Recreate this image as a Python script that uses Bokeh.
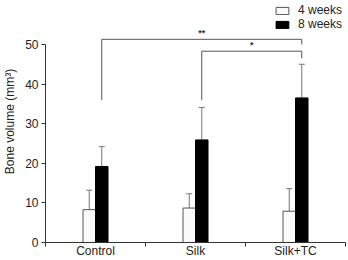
from bokeh.plotting import figure
from bokeh.models import (ColumnDataSource, Range1d, FixedTicker, Whisker, TeeHead,
                          Legend, LegendItem)
from bokeh.embed import file_html
from bokeh.resources import INLINE

# ---- data ----
categories = ["Control", "Silk", "Silk+TC"]
series_names = ["4 weeks", "8 weeks"]
weeks4 = [8.3, 8.7, 7.9]
weeks4_err = [4.9, 3.6, 5.7]
weeks8 = [19.2, 25.9, 36.5]
weeks8_err = [5.0, 8.2, 8.5]
y_ticks = [0, 10, 20, 30, 40, 50]
y_title = "Bone volume (mm³)"
# significance comparisons: (group a, group b, label)
comparisons = [("Control", "Silk+TC", "**"), ("Silk", "Silk+TC", "*")]

# ---- layout / style ----
FONT = "Liberation Sans"
BAR_W = 0.125
OFF4, OFF8 = -0.0625, 0.0625
centers = [i + 0.5 for i in range(len(categories))]
pos = {c: i + 0.5 for i, c in enumerate(categories)}

p = figure(width=348, height=260, output_backend="svg", toolbar_location=None,
           x_range=Range1d(0, len(categories)), y_range=Range1d(0, 61.1),
           min_border_left=44, min_border_right=3, min_border_top=0,
           min_border_bottom=18)
p.outline_line_color = None
p.grid.visible = False
p.background_fill_color = "white"

x4 = [c + OFF4 for c in centers]
x8 = [c + OFF8 for c in centers]
src = ColumnDataSource(dict(x4=x4, x8=x8, v4=weeks4, v8=weeks8,
                            u4=[v + e for v, e in zip(weeks4, weeks4_err)],
                            u8=[v + e for v, e in zip(weeks8, weeks8_err)]))

r4 = p.vbar(x="x4", top="v4", bottom=0, width=BAR_W, source=src,
            fill_color="#fafafa", line_color="#555555", line_width=1)
r8 = p.vbar(x="x8", top="v8", bottom=0, width=BAR_W, source=src,
            fill_color="black", line_color="black", line_width=1)

for base, lo, up in (("x4", "v4", "u4"), ("x8", "v8", "u8")):
    w = Whisker(base=base, lower=lo, upper=up, source=src, dimension="height",
                line_color="#777777", line_width=1,
                upper_head=TeeHead(size=6, line_color="#777777", line_width=1),
                lower_head=None)
    p.add_layout(w)

# significance brackets
heights = [51.3, 48.3]
right_ends = [50.0, 46.5]
left_end = 35.9
for (a, b, lab), h, rend in zip(comparisons, heights, right_ends):
    xa, xb = pos[a] + OFF8, pos[b] + OFF8
    p.line([xa, xa, xb, xb], [left_end, h, h, rend], line_color="#555555", line_width=1)
    p.text(x=[(xa + xb) / 2], y=[h + 0.3], text=[lab], text_align="center",
           text_baseline="bottom", text_font_size="9px", text_color="#333333",
           text_font_style="bold", text_font={"value": FONT})

# axes
xa_ = p.xaxis[0]
xa_.ticker = FixedTicker(ticks=centers, minor_ticks=list(range(len(categories) + 1)))
xa_.major_label_overrides = {c: n for c, n in zip(centers, categories)}
xa_.major_tick_line_color = None
xa_.major_tick_out = 0
xa_.major_tick_in = 0
xa_.minor_tick_out = 4
xa_.minor_tick_in = 0
xa_.minor_tick_line_color = "#333333"
xa_.major_label_standoff = -3
xa_.major_label_text_font = FONT
xa_.major_label_text_font_size = "12px"
xa_.major_label_text_color = "#222222"
xa_.axis_line_color = "#333333"

ya = p.yaxis[0]
ya.ticker = FixedTicker(ticks=y_ticks)
ya.bounds = (y_ticks[0], y_ticks[-1])
ya.major_tick_out = 4
ya.major_tick_in = 0
ya.minor_tick_line_color = None
ya.major_label_standoff = 3
ya.major_label_text_font = FONT
ya.major_label_text_font_size = "12px"
ya.major_label_text_color = "#222222"
ya.axis_line_color = "#333333"
ya.major_tick_line_color = "#333333"
ya.axis_label = y_title
ya.axis_label_text_font = FONT
ya.axis_label_text_font_size = "12px"
ya.axis_label_text_font_style = "normal"
ya.axis_label_text_color = "#222222"
ya.axis_label_standoff = 5

legend = Legend(items=[LegendItem(label=series_names[0], renderers=[r4]),
                       LegendItem(label=series_names[1], renderers=[r8])],
                location="top_right", glyph_width=16, glyph_height=9,
                label_height=12, label_standoff=8, spacing=0, padding=0, margin=3,
                border_line_color=None, background_fill_alpha=0,
                label_text_font=FONT, label_text_font_size="12px",
                label_text_color="#222222")
p.add_layout(legend)

open("out.html", "w").write(file_html(p, INLINE))
